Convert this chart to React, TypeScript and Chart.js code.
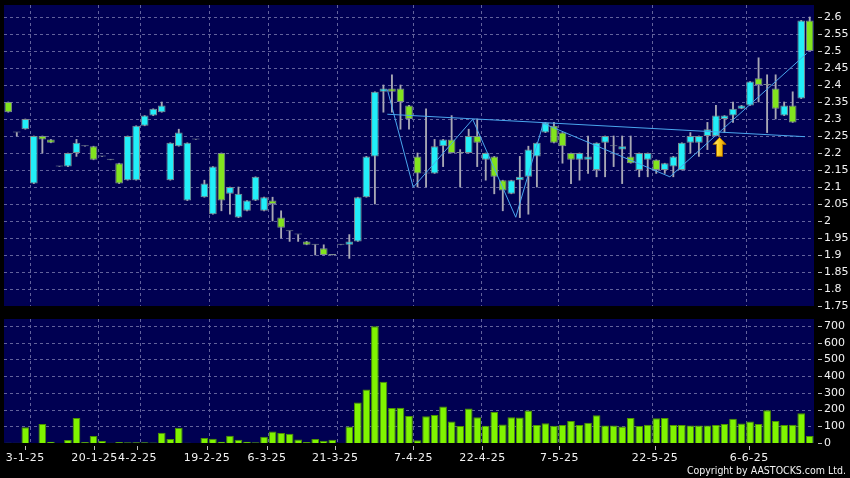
import React, { useEffect, useRef } from "react";
import { Chart, registerables } from "chart.js";

Chart.register(...registerables);

// ---------------- DATA ----------------
const opens = [
  2.35, 2.26, 2.27, 2.11, 2.25, 2.24, 2.16, 2.16, 2.2, 2.22,
  2.22, 2.19, 2.18, 2.17, 2.12, 2.12, 2.28, 2.31, 2.32, 2.12,
  2.22, 2.06, 2.24, 2.07, 2.02, 2.2, 2.08, 2.01, 2.03, 2.06,
  2.03, 2.06, 2.01, 1.97, 1.96, 1.94, 1.93, 1.92, 1.9, 1.93,
  1.93, 1.94, 2.07, 2.19, 2.38, 2.39, 2.39, 2.34, 2.19, 2.14,
  2.14, 2.22, 2.24, 2.2, 2.2, 2.25, 2.18, 2.19, 2.12, 2.08,
  2.12, 2.13, 2.19, 2.26, 2.28, 2.26, 2.2, 2.18, 2.18, 2.15,
  2.23, 2.22, 2.21, 2.19, 2.15, 2.18, 2.18, 2.15, 2.16, 2.15,
  2.23, 2.23, 2.25, 2.25, 2.3, 2.31, 2.33, 2.34, 2.42, 2.4,
  2.39, 2.31, 2.34, 2.36, 2.59,
];
const highs = [
  2.35, 2.26, 2.3, 2.25, 2.25, 2.24, 2.16, 2.2, 2.24, 2.22,
  2.22, 2.19, 2.18, 2.17, 2.25, 2.28, 2.31, 2.33, 2.35, 2.23,
  2.27, 2.23, 2.24, 2.12, 2.16, 2.2, 2.1, 2.1, 2.06, 2.13,
  2.07, 2.07, 2.03, 1.97, 1.96, 1.94, 1.93, 1.93, 1.9, 1.93,
  1.96, 2.07, 2.19, 2.38, 2.4, 2.43, 2.4, 2.34, 2.2, 2.33,
  2.24, 2.24, 2.31, 2.21, 2.27, 2.3, 2.2, 2.19, 2.12, 2.12,
  2.19, 2.22, 2.23, 2.29, 2.29, 2.26, 2.2, 2.2, 2.25, 2.23,
  2.25, 2.25, 2.25, 2.25, 2.2, 2.2, 2.18, 2.17, 2.19, 2.23,
  2.26, 2.25, 2.29, 2.34, 2.31, 2.35, 2.34, 2.41, 2.48, 2.43,
  2.43, 2.35, 2.38, 2.59, 2.6,
];
const lows = [
  2.32, 2.25, 2.27, 2.11, 2.2, 2.23, 2.16, 2.16, 2.19, 2.22,
  2.18, 2.19, 2.18, 2.11, 2.12, 2.12, 2.28, 2.31, 2.32, 2.12,
  2.22, 2.06, 2.24, 2.07, 2.02, 2.03, 2.02, 2.01, 2.03, 2.06,
  2.03, 2.0, 1.95, 1.94, 1.94, 1.93, 1.9, 1.9, 1.9, 1.93,
  1.89, 1.94, 2.07, 2.05, 2.32, 2.32, 2.27, 2.27, 2.1, 2.1,
  2.14, 2.16, 2.2, 2.1, 2.2, 2.16, 2.12, 2.08, 2.03, 2.08,
  2.01, 2.02, 2.1, 2.26, 2.23, 2.17, 2.11, 2.12, 2.14, 2.13,
  2.13, 2.16, 2.11, 2.17, 2.13, 2.13, 2.14, 2.14, 2.13, 2.15,
  2.2, 2.19, 2.21, 2.25, 2.26, 2.29, 2.33, 2.34, 2.35, 2.26,
  2.3, 2.31, 2.29, 2.36, 2.5,
];
const closes = [
  2.32, 2.26, 2.3, 2.25, 2.24, 2.23, 2.16, 2.2, 2.23, 2.22,
  2.18, 2.19, 2.18, 2.11, 2.25, 2.28, 2.31, 2.33, 2.34, 2.23,
  2.26, 2.23, 2.24, 2.11, 2.16, 2.06, 2.1, 2.08, 2.06, 2.13,
  2.07, 2.05, 1.98, 1.97, 1.96, 1.93, 1.93, 1.9, 1.9, 1.93,
  1.94, 2.07, 2.19, 2.38, 2.39, 2.38, 2.35, 2.3, 2.14, 2.14,
  2.22, 2.24, 2.2, 2.2, 2.25, 2.23, 2.2, 2.13, 2.09, 2.12,
  2.13, 2.21, 2.23, 2.29, 2.23, 2.22, 2.18, 2.2, 2.19, 2.23,
  2.25, 2.22, 2.22, 2.17, 2.2, 2.2, 2.15, 2.17, 2.19, 2.23,
  2.25, 2.25, 2.27, 2.31, 2.31, 2.33, 2.34, 2.41, 2.4, 2.4,
  2.33, 2.34, 2.29, 2.59, 2.5,
];
const volumes = [
  2, 1, 94, 0, 114, 8, 0, 18, 150, 6,
  42, 12, 2, 6, 4, 5, 5, 3, 61, 24,
  91, 2, 0, 30, 26, 8, 43, 20, 8, 4,
  37, 69, 60, 56, 21, 6, 24, 14, 20, 0,
  99, 243, 320, 698, 367, 209, 211, 162, 16, 160,
  168, 219, 128, 101, 207, 154, 103, 185, 110, 154,
  152, 195, 107, 118, 103, 108, 132, 108, 121, 166,
  105, 105, 99, 150, 101, 109, 148, 150, 107, 107,
  105, 105, 105, 107, 113, 145, 117, 129, 113, 196,
  131, 107, 109, 178, 42,
];

const dateLabels = ["3-1-25", "20-1-25", "4-2-25", "19-2-25", "6-3-25", "21-3-25", "7-4-25", "22-4-25", "7-5-25", "22-5-25", "6-6-25"];
const dateLabelPos = [1.96, 10.09, 15.13, 23.27, 30.31, 38.32, 47.5, 55.6, 64.63, 75.82, 86.88];
const dateGridPos = [2.5, 10.5, 15.5, 23.5, 30.5, 38.5, 47.5, 55.5, 64.5, 75.5, 86.5];

const priceTicks = [1.75, 1.8, 1.85, 1.9, 1.95, 2, 2.05, 2.1, 2.15, 2.2, 2.25, 2.3, 2.35, 2.4, 2.45, 2.5, 2.55, 2.6];
const volumeTicks = [0, 100, 200, 300, 400, 500, 600, 700];

const necklineX = [44.46, 93.45];
const necklineY = [2.314, 2.248];
const zigzagX = [44.46, 47.5, 54.47, 59.52, 62.75, 77.6, 93.65];
const zigzagY = [2.387, 2.099, 2.299, 2.011, 2.287, 2.13, 2.493];

const arrowIndex = 83.42;
const arrowPrice = 2.246;

// ---------------- STYLE ----------------
const NAVY = "#000052";
const GRID = "#62629c";
const TEXT = "#f2f2f2";
const TICKMARK = "#bdbdbd";
const CYAN = "#22eef8";
const GREEN = "#82e41e";
const CANDLE_BORDER = "#7d8a90";
const WICK = "#a8a8b4";
const VOL_FILL = "#80f400";
const VOL_BORDER = "#4c9400";
const TREND = "#4aa6ee";
const FONT = "DejaVu Sans";

const N = closes.length;

const fmtPrice = (v: number) => String(Math.round(v * 100) / 100);

function panelPlugin(yGrid: number[], withXLabels: boolean, withArrow: boolean) {
  return {
    id: "panel",
    beforeDraw(chart: any) {
      const { ctx, chartArea: a, scales } = chart;
      ctx.save();
      ctx.fillStyle = NAVY;
      ctx.fillRect(a.left, a.top, a.right - a.left, a.bottom - a.top);
      ctx.strokeStyle = GRID;
      ctx.lineWidth = 1;
      ctx.setLineDash([3, 3]);
      ctx.beginPath();
      for (const v of yGrid) {
        const y = Math.round(scales.y.getPixelForValue(v)) + 0.5;
        if (y <= a.top + 1 || y >= a.bottom - 1) continue;
        ctx.moveTo(a.left, y);
        ctx.lineTo(a.right, y);
      }
      for (const v of dateGridPos) {
        const x = Math.round(scales.x.getPixelForValue(v)) + 0.5;
        ctx.moveTo(x, a.top);
        ctx.lineTo(x, a.bottom);
      }
      ctx.stroke();
      ctx.restore();
    },
    afterDatasetsDraw(chart: any) {
      if (!withArrow) return;
      const { ctx, scales } = chart;
      const x = scales.x.getPixelForValue(arrowIndex);
      const y = scales.y.getPixelForValue(arrowPrice);
      ctx.save();
      const g = ctx.createLinearGradient(x - 6, 0, x + 6, 0);
      g.addColorStop(0, "#fff0a0");
      g.addColorStop(0.45, "#ffd21e");
      g.addColorStop(1, "#e09400");
      ctx.beginPath();
      ctx.moveTo(x, y);
      ctx.lineTo(x + 6.5, y + 7);
      ctx.lineTo(x + 3, y + 7);
      ctx.lineTo(x + 3, y + 19);
      ctx.lineTo(x - 3, y + 19);
      ctx.lineTo(x - 3, y + 7);
      ctx.lineTo(x - 6.5, y + 7);
      ctx.closePath();
      ctx.fillStyle = g;
      ctx.fill();
      ctx.strokeStyle = "#a86c00";
      ctx.lineWidth = 1;
      ctx.stroke();
      ctx.restore();
    },
    afterDraw(chart: any) {
      const { ctx, chartArea: a, scales } = chart;
      ctx.save();
      ctx.strokeStyle = TICKMARK;
      ctx.lineWidth = 1;
      ctx.beginPath();
      for (const v of yGrid) {
        const y = Math.round(scales.y.getPixelForValue(v)) + 0.5;
        ctx.moveTo(a.right + 4, y);
        ctx.lineTo(a.right + 8, y);
      }
      if (withXLabels) {
        for (const v of dateLabelPos) {
          const x = Math.round(scales.x.getPixelForValue(v)) + 0.5;
          ctx.moveTo(x, a.bottom + 3);
          ctx.lineTo(x, a.bottom + 7);
        }
      }
      ctx.stroke();
      if (withXLabels) {
        ctx.fillStyle = TEXT;
        ctx.font = `11px "${FONT}"`;
        (ctx as any).letterSpacing = "0.5px";
        ctx.textAlign = "center";
        ctx.textBaseline = "middle";
        dateLabelPos.forEach((v, i) => {
          const x = scales.x.getPixelForValue(v);
          ctx.fillText(dateLabels[i], x + 0.25, a.bottom + 15.5);
        });
        (ctx as any).letterSpacing = "0px";
      }
      ctx.restore();
    },
  };
}

function xScale() {
  return {
    type: "linear" as const,
    min: -0.5,
    max: N - 0.5,
    offset: false,
    display: false,
    grid: { display: false, drawTicks: false },
    border: { display: false },
    afterBuildTicks: (s: any) => {
      s.ticks = dateLabelPos.map((v) => ({ value: v }));
    },
  };
}

function yScale(ticks: number[], min: number, max: number, fmt: (v: number) => string) {
  return {
    type: "linear" as const,
    position: "right" as const,
    min,
    max,
    grid: { display: false, drawTicks: false },
    border: { display: false },
    afterBuildTicks: (s: any) => {
      s.ticks = ticks.map((v) => ({ value: v }));
    },
    afterFit: (s: any) => {
      s.width = 36;
      s.paddingTop = 0;
      s.paddingBottom = 0;
    },
    ticks: {
      autoSkip: false,
      padding: 10,
      color: TEXT,
      font: { family: FONT, size: 11 },
      callback: (v: any) => fmt(Number(v)),
    },
  };
}

export default function App() {
  const priceRef = useRef<HTMLCanvasElement>(null);
  const volRef = useRef<HTMLCanvasElement>(null);

  useEffect(() => {
    document.body.style.margin = "0";
    document.body.style.background = "#000";

    const bodies = closes.map((c, i) => ({ x: i, y: [opens[i], c] }));
    const wicks = closes.map((_c, i) => ({ x: i, y: [lows[i], highs[i]] }));
    const neck = necklineX.map((x, i) => ({ x, y: necklineY[i] }));
    const zig = zigzagX.map((x, i) => ({ x, y: zigzagY[i] }));
    const vols = volumes.map((v, i) => ({ x: i, y: v }));

    const bodyColor = (c: any) => {
      const i = c.dataIndex;
      if (i === undefined) return CYAN;
      if (closes[i] > opens[i]) return CYAN;
      if (closes[i] < opens[i]) return GREEN;
      return CANDLE_BORDER;
    };

    const price = new Chart(priceRef.current as HTMLCanvasElement, {
      type: "bar",
      data: {
        datasets: [
          { type: "line", data: neck, borderColor: TREND, borderWidth: 1, pointRadius: 0, order: 0 } as any,
          { type: "line", data: zig, borderColor: TREND, borderWidth: 1, pointRadius: 0, order: 1 } as any,
          {
            type: "bar",
            data: bodies,
            backgroundColor: bodyColor,
            borderColor: CANDLE_BORDER,
            borderWidth: 1,
            borderSkipped: false,
            grouped: false,
            barPercentage: 0.9,
            categoryPercentage: 1,
            minBarLength: 1,
            order: 2,
          } as any,
          {
            type: "bar",
            data: wicks,
            backgroundColor: WICK,
            borderWidth: 0,
            barThickness: 1.2,
            grouped: false,
            order: 3,
          } as any,
        ],
      },
      options: {
        animation: false,
        responsive: false,
        devicePixelRatio: 1,
        events: [],
        layout: { padding: { left: 4, top: 5, right: 0, bottom: 6 } },
        plugins: { legend: { display: false }, tooltip: { enabled: false } },
        scales: {
          x: xScale(),
          y: yScale(priceTicks, 1.75, 2.6353, fmtPrice),
        } as any,
      },
      plugins: [panelPlugin(priceTicks, false, true)],
    });

    const volume = new Chart(volRef.current as HTMLCanvasElement, {
      type: "bar",
      data: {
        datasets: [
          {
            data: vols,
            backgroundColor: VOL_FILL,
            borderColor: VOL_BORDER,
            borderWidth: 1,
            grouped: false,
            barPercentage: 0.9,
            categoryPercentage: 1,
          } as any,
        ],
      },
      options: {
        animation: false,
        responsive: false,
        devicePixelRatio: 1,
        events: [],
        layout: { padding: { left: 4, top: 7, right: 0, bottom: 35 } },
        plugins: { legend: { display: false }, tooltip: { enabled: false } },
        scales: {
          x: xScale(),
          y: yScale(volumeTicks, 0, 741.9, (v) => String(Math.round(v))),
        } as any,
      },
      plugins: [panelPlugin(volumeTicks, true, false)],
    });

    return () => {
      price.destroy();
      volume.destroy();
    };
  }, []);

  return (
    <div style={{ position: "relative", width: 850, height: 478, background: "#000", overflow: "hidden" }}>
      <style>{`body{margin:0;background:#000;}`}</style>
      <canvas ref={priceRef} width={850} height={312} style={{ position: "absolute", left: 0, top: 0 }} />
      <canvas ref={volRef} width={850} height={166} style={{ position: "absolute", left: 0, top: 312 }} />
      <div
        style={{
          position: "absolute",
          right: 4,
          top: 464,
          color: TEXT,
          fontFamily: "'DejaVu Sans Condensed', 'DejaVu Sans'",
          fontSize: "10.5px",
          lineHeight: "12px",
          whiteSpace: "nowrap",
        }}
      >
        Copyright by AASTOCKS.com Ltd.
      </div>
    </div>
  );
}
